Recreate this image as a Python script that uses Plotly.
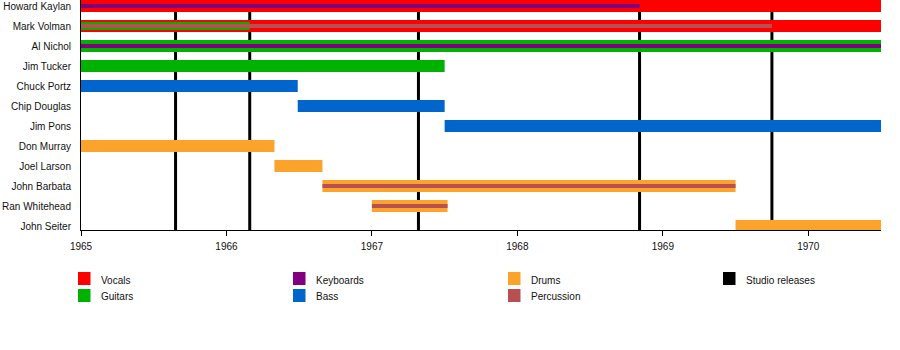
import plotly.graph_objects as go

# ---------------- data ----------------
members = ["Howard Kaylan", "Mark Volman", "Al Nichol", "Jim Tucker", "Chuck Portz",
           "Chip Douglas", "Jim Pons", "Don Murray", "Joel Larson", "John Barbata",
           "Ran Whitehead", "John Seiter"]
x_start = 1965.0
x_end = 1970.5
year_ticks = [1965, 1966, 1967, 1968, 1969, 1970]
year_labels = ["1965", "1966", "1967", "1968", "1969", "1970"]

vocals_members = ["Howard Kaylan", "Mark Volman"]
vocals_start = [1965.0, 1965.0]
vocals_end = [1970.5, 1970.5]

guitars_members = ["Al Nichol", "Jim Tucker"]
guitars_start = [1965.0, 1965.0]
guitars_end = [1970.5, 1967.5]

guitars2_members = ["Mark Volman"]          # secondary guitars
guitars2_start = [1965.0]
guitars2_end = [1966.16]

keyboards_members = ["Howard Kaylan", "Al Nichol"]
keyboards_start = [1965.0, 1965.0]
keyboards_end = [1968.84, 1970.5]

bass_members = ["Chuck Portz", "Chip Douglas", "Jim Pons"]
bass_start = [1965.0, 1966.49, 1967.5]
bass_end = [1966.49, 1967.5, 1970.5]

drums_members = ["Don Murray", "Joel Larson", "John Barbata", "Ran Whitehead", "John Seiter"]
drums_start = [1965.0, 1966.33, 1966.66, 1967.0, 1969.5]
drums_end = [1966.33, 1966.66, 1969.5, 1967.52, 1970.5]

percussion_members = ["Mark Volman", "John Barbata", "Ran Whitehead"]
percussion_start = [1965.0, 1966.66, 1967.0]
percussion_end = [1969.75, 1969.5, 1967.52]

studio_releases = [1965.65, 1966.16, 1967.32, 1968.84, 1969.75]

# ---------------- styles ----------------
C_VOCALS = "#ff0000"
C_GUITARS = "#00b200"
C_KEYS = "#800080"
C_BASS = "#0066cc"
C_DRUMS = "#fba32b"
C_PERC = "#b84f50"
C_STUDIO = "#000000"
FONT = "Liberation Sans, Arial, sans-serif"
FS = 10

PX_PER_ROW = 20
PLOT_H = 230
ML, MR, MT = 81, 19, 0
MB = 350 - PLOT_H - MT

fig = go.Figure()
idx = {m: i for i, m in enumerate(members)}


def add_bars(names, starts, ends, color, width_px):
    fig.add_trace(go.Bar(
        orientation="h",
        y=[idx[n] for n in names],
        base=starts,
        x=[e - s for s, e in zip(starts, ends)],
        width=width_px / PX_PER_ROW,
        marker=dict(color=color, line=dict(width=0)),
        showlegend=False,
        hoverinfo="skip",
    ))


add_bars(vocals_members, vocals_start, vocals_end, C_VOCALS, 12)
add_bars(guitars_members, guitars_start, guitars_end, C_GUITARS, 12)
add_bars(bass_members, bass_start, bass_end, C_BASS, 12)
add_bars(drums_members, drums_start, drums_end, C_DRUMS, 12)
add_bars(guitars2_members, guitars2_start, guitars2_end, C_GUITARS, 8)
add_bars(keyboards_members, keyboards_start, keyboards_end, C_KEYS, 4)
add_bars(percussion_members, percussion_start, percussion_end, C_PERC, 4)

for xr in studio_releases:
    fig.add_shape(type="line", xref="x", yref="paper", x0=xr, x1=xr, y0=0, y1=1,
                  line=dict(color=C_STUDIO, width=3), layer="below")

# legend (manual, pixel positions converted to paper coords)
legend_items = [("Vocals", C_VOCALS), ("Guitars", C_GUITARS), ("Keyboards", C_KEYS),
                ("Bass", C_BASS), ("Drums", C_DRUMS), ("Percussion", C_PERC),
                ("Studio releases", C_STUDIO)]
col_x = [78, 293, 508, 723]
row_y = [278.5, 295.5]
plot_w = 900 - ML - MR


def px_to_paper_x(px):
    return (px - ML) / plot_w


def px_to_paper_y(py):
    return (MT + PLOT_H - py) / PLOT_H


for k, (label, color) in enumerate(legend_items):
    c, r = divmod(k, 2)
    x0 = col_x[c]
    yc = row_y[r]
    fig.add_shape(type="rect", xref="paper", yref="paper",
                  x0=px_to_paper_x(x0), x1=px_to_paper_x(x0 + 12.5),
                  y0=px_to_paper_y(yc - 6.5), y1=px_to_paper_y(yc + 6.5),
                  fillcolor=color, line=dict(width=0))
    fig.add_annotation(xref="paper", yref="paper", x=px_to_paper_x(x0 + 21),
                       y=px_to_paper_y(yc + 1.5), text=label, showarrow=False,
                       xanchor="left", yanchor="middle",
                       font=dict(family=FONT, size=FS, color="#111"))

fig.update_layout(
    width=900, height=350,
    margin=dict(l=ML, r=MR, t=MT, b=MB, pad=0),
    barmode="overlay",
    plot_bgcolor="white", paper_bgcolor="white",
    font=dict(family=FONT, size=FS, color="#111"),
    showlegend=False,
)
fig.update_xaxes(range=[x_start, x_end], tickvals=year_ticks, ticktext=year_labels,
                 showgrid=False, zeroline=False, showline=True, linecolor="black",
                 linewidth=1, ticks="outside", ticklen=5, tickcolor="black",
                 automargin=False, ticklabelstandoff=2,
                 tickfont=dict(family=FONT, size=FS, color="#111"))
fig.update_yaxes(range=[len(members) - 1 + (PLOT_H - (len(members) - 1) * PX_PER_ROW - 6) / PX_PER_ROW,
                        -6 / PX_PER_ROW],
                 tickvals=list(range(len(members))), ticktext=members,
                 showgrid=False, zeroline=False, showline=True, linecolor="black",
                 linewidth=1, ticks="", ticklabelstandoff=7,
                 automargin=False, ticklabeloverflow="allow",
                 tickfont=dict(family=FONT, size=FS, color="#111"))

fig.write_html("out.html")
